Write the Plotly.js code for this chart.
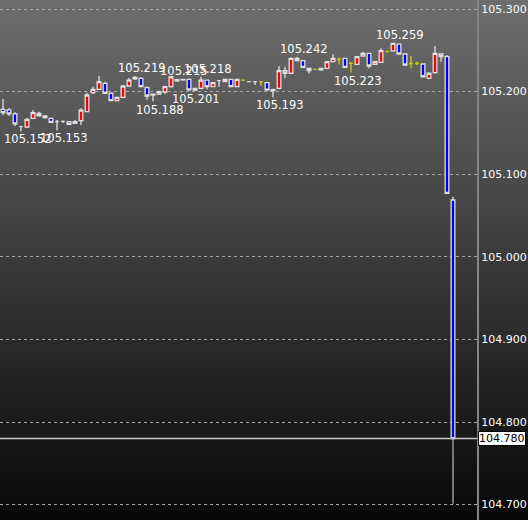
<!DOCTYPE html>
<html>
<head>
<meta charset="utf-8">
<script src="https://cdn.plot.ly/plotly-3.0.1.min.js"></script>
<style>
html,body{margin:0;padding:0;background:#000;}
#chart{width:528px;height:520px;background:linear-gradient(to bottom,#6e6e6e 0%,#3a3a3a 50%,#080808 100%);}
</style>
</head>
<body>
<div id="chart"></div>
<script>
// candle data (index 0..75)
const opens = [105.1786,105.178,105.173,105.1575,105.157,105.1677,105.1737,105.1705,105.1677,105.1636,
105.164,105.1636,105.1616,105.1648,105.1757,105.1987,105.2028,105.210,105.198,105.189,
105.193,105.2068,105.2153,105.2161,105.205,105.1958,105.197,105.1995,105.206,105.2145,
105.2141,105.2149,105.2019,105.204,105.214,105.206,105.2132,105.212,105.2149,105.206,
105.214,105.212,105.212,105.212,105.2108,105.2011,105.204,105.2253,105.2222,105.2403,
105.2374,105.2282,105.227,105.2262,105.2282,105.2362,105.239,105.2403,105.2343,105.233,
105.2431,105.2464,105.233,105.2355,105.2483,105.2492,105.2576,105.2455,105.234,105.234,
105.2334,105.2161,105.2229,105.2455,105.2423,105.0688];
const highs = [105.191,105.180,105.175,105.158,105.168,105.1777,105.1757,105.171,105.168,105.1657,
105.165,105.164,105.1657,105.180,105.1987,105.206,105.2189,105.212,105.199,105.194,
105.208,105.2165,105.219,105.2175,105.206,105.1975,105.201,105.207,105.2185,105.215,
105.215,105.2155,105.2045,105.218,105.2145,105.2115,105.214,105.2155,105.2155,105.2155,
105.2145,105.2125,105.2125,105.2125,105.2115,105.2035,105.231,105.230,105.2415,105.242,
105.238,105.229,105.2275,105.229,105.237,105.2452,105.2415,105.241,105.2362,105.2435,
105.2483,105.247,105.237,105.2524,105.250,105.259,105.258,105.246,105.2431,105.2362,
105.234,105.2225,105.2552,105.2464,105.2443,105.0728];
const lows = [105.1717,105.1708,105.1584,105.152,105.156,105.167,105.170,105.167,105.162,105.153,
105.162,105.160,105.161,105.1596,105.175,105.197,105.202,105.197,105.189,105.188,
105.192,105.206,105.214,105.205,105.190,105.188,105.196,105.197,105.205,105.212,
105.213,105.201,105.2005,105.203,105.2028,105.2055,105.206,105.2115,105.2055,105.2055,
105.2135,105.2115,105.208,105.2068,105.2015,105.193,105.203,105.2161,105.222,105.237,
105.229,105.222,105.2265,105.2258,105.228,105.236,105.2325,105.229,105.223,105.2325,
105.243,105.2282,105.2325,105.235,105.2475,105.249,105.245,105.232,105.2282,105.2318,
105.2175,105.2155,105.222,105.2362,105.0769,104.701];
const closes = [105.1745,105.173,105.161,105.1575,105.1665,105.1745,105.1708,105.1684,105.1628,105.1636,
105.164,105.1604,105.1636,105.1777,105.1959,105.2028,105.212,105.198,105.189,105.193,
105.2068,105.214,105.2173,105.206,105.1947,105.1968,105.200,105.206,105.218,105.213,
105.2148,105.2021,105.204,105.214,105.206,105.2108,105.2132,105.2149,105.206,105.2149,
105.214,105.212,105.212,105.212,105.2019,105.2023,105.2253,105.2222,105.2403,105.2374,
105.2294,105.2253,105.227,105.2282,105.2362,105.2403,105.239,105.2294,105.2343,105.2423,
105.2464,105.231,105.2362,105.2495,105.2483,105.2585,105.2455,105.2322,105.234,105.234,
105.218,105.2222,105.2464,105.2423,105.0769,104.780];
// candles drawn as yellow (unchanged) dojis
const yellowIdx = [40,43,52,56,58,64,68,69];
// high / low labels
const labelIdx  = [3,9,22,25,29,31,33,45,49,58,65];
const labelKind = ['L','L','H','L','H','L','H','L','H','L','H'];
// y axis ticks
const tickVals = [104.7,104.8,104.9,105.0,105.1,105.2,105.3];

const n = opens.length;
const xs = opens.map((_, i) => i);
const last = n - 1;
const mainIdx = xs.filter(i => !yellowIdx.includes(i));

function pick(arr, idx){ return idx.map(i => arr[i]); }

const mainLow = mainIdx.map(i => i === last ? Math.min(opens[i], closes[i]) : lows[i]);

const traces = [
  {
    type:'candlestick', x: pick(xs, mainIdx),
    open: pick(opens, mainIdx), high: pick(highs, mainIdx), low: mainLow, close: pick(closes, mainIdx),
    increasing:{fillcolor:'#ff0000', line:{color:'#e0e0e0', width:1.3}},
    decreasing:{fillcolor:'#0000ff', line:{color:'#e0e0e0', width:1.3}},
    whiskerwidth:0, hoverinfo:'skip', showlegend:false
  },
  {
    type:'candlestick', x: pick(xs, yellowIdx),
    open: pick(opens, yellowIdx), high: pick(highs, yellowIdx), low: pick(lows, yellowIdx), close: pick(closes, yellowIdx),
    increasing:{fillcolor:'#d0d000', line:{color:'#d0d000', width:1.3}},
    decreasing:{fillcolor:'#d0d000', line:{color:'#d0d000', width:1.3}},
    whiskerwidth:0, hoverinfo:'skip', showlegend:false
  },
  {
    type:'scatter', mode:'lines', x:[last, last], y:[closes[last], lows[last]],
    line:{color:'#9a9a9a', width:1.5}, hoverinfo:'skip', showlegend:false
  }
];

const annotations = labelIdx.map((i, k) => {
  const hi = labelKind[k] === 'H';
  return {
    x: i, y: hi ? highs[i] : lows[i], xref:'x', yref:'y',
    text: (hi ? highs[i] : lows[i]).toFixed(3),
    showarrow:false, xanchor:'center', yanchor: hi ? 'bottom' : 'top',
    xshift:7, yshift: hi ? -1 : 1,
    font:{family:'DejaVu Sans', size:11.5, color:'#ffffff'}
  };
});
annotations.push({
  x:1, xref:'paper', y:closes[last], yref:'y', xanchor:'left', yanchor:'middle', xshift:1,
  text: closes[last].toFixed(3), showarrow:false,
  bgcolor:'#ffffff', bordercolor:'#000000', borderwidth:1, borderpad:0,
  font:{family:'DejaVu Sans', size:11, color:'#000000'}
});

const layout = {
  width:528, height:520,
  margin:{l:0, r:51, t:0, b:0, pad:0},
  paper_bgcolor:'rgba(0,0,0,0)', plot_bgcolor:'rgba(0,0,0,0)',
  showlegend:false,
  boxgap:0.12,
  xaxis:{range:[-0.5, 79], showgrid:false, zeroline:false, showticklabels:false, ticks:'',
         showline:false, rangeslider:{visible:false}, fixedrange:true},
  yaxis:{range:[104.6814, 105.3109], side:'right', tickvals:tickVals, tickformat:'.3f',
         showgrid:true, gridcolor:'#a8a8a8', griddash:'3px,3px', gridwidth:1,
         zeroline:false, showline:true, linecolor:'#858585', linewidth:2,
         ticks:'', ticklen:0,
         tickfont:{family:'DejaVu Sans', size:11, color:'#ffffff'}, fixedrange:true},
  shapes:[{type:'line', xref:'paper', x0:0, x1:1, yref:'y', y0:closes[last], y1:closes[last],
           line:{color:'#c8c8c8', width:1.5}}],
  annotations: annotations
};

Plotly.newPlot('chart', traces, layout, {displayModeBar:false, staticPlot:true});
</script>
</body>
</html>
